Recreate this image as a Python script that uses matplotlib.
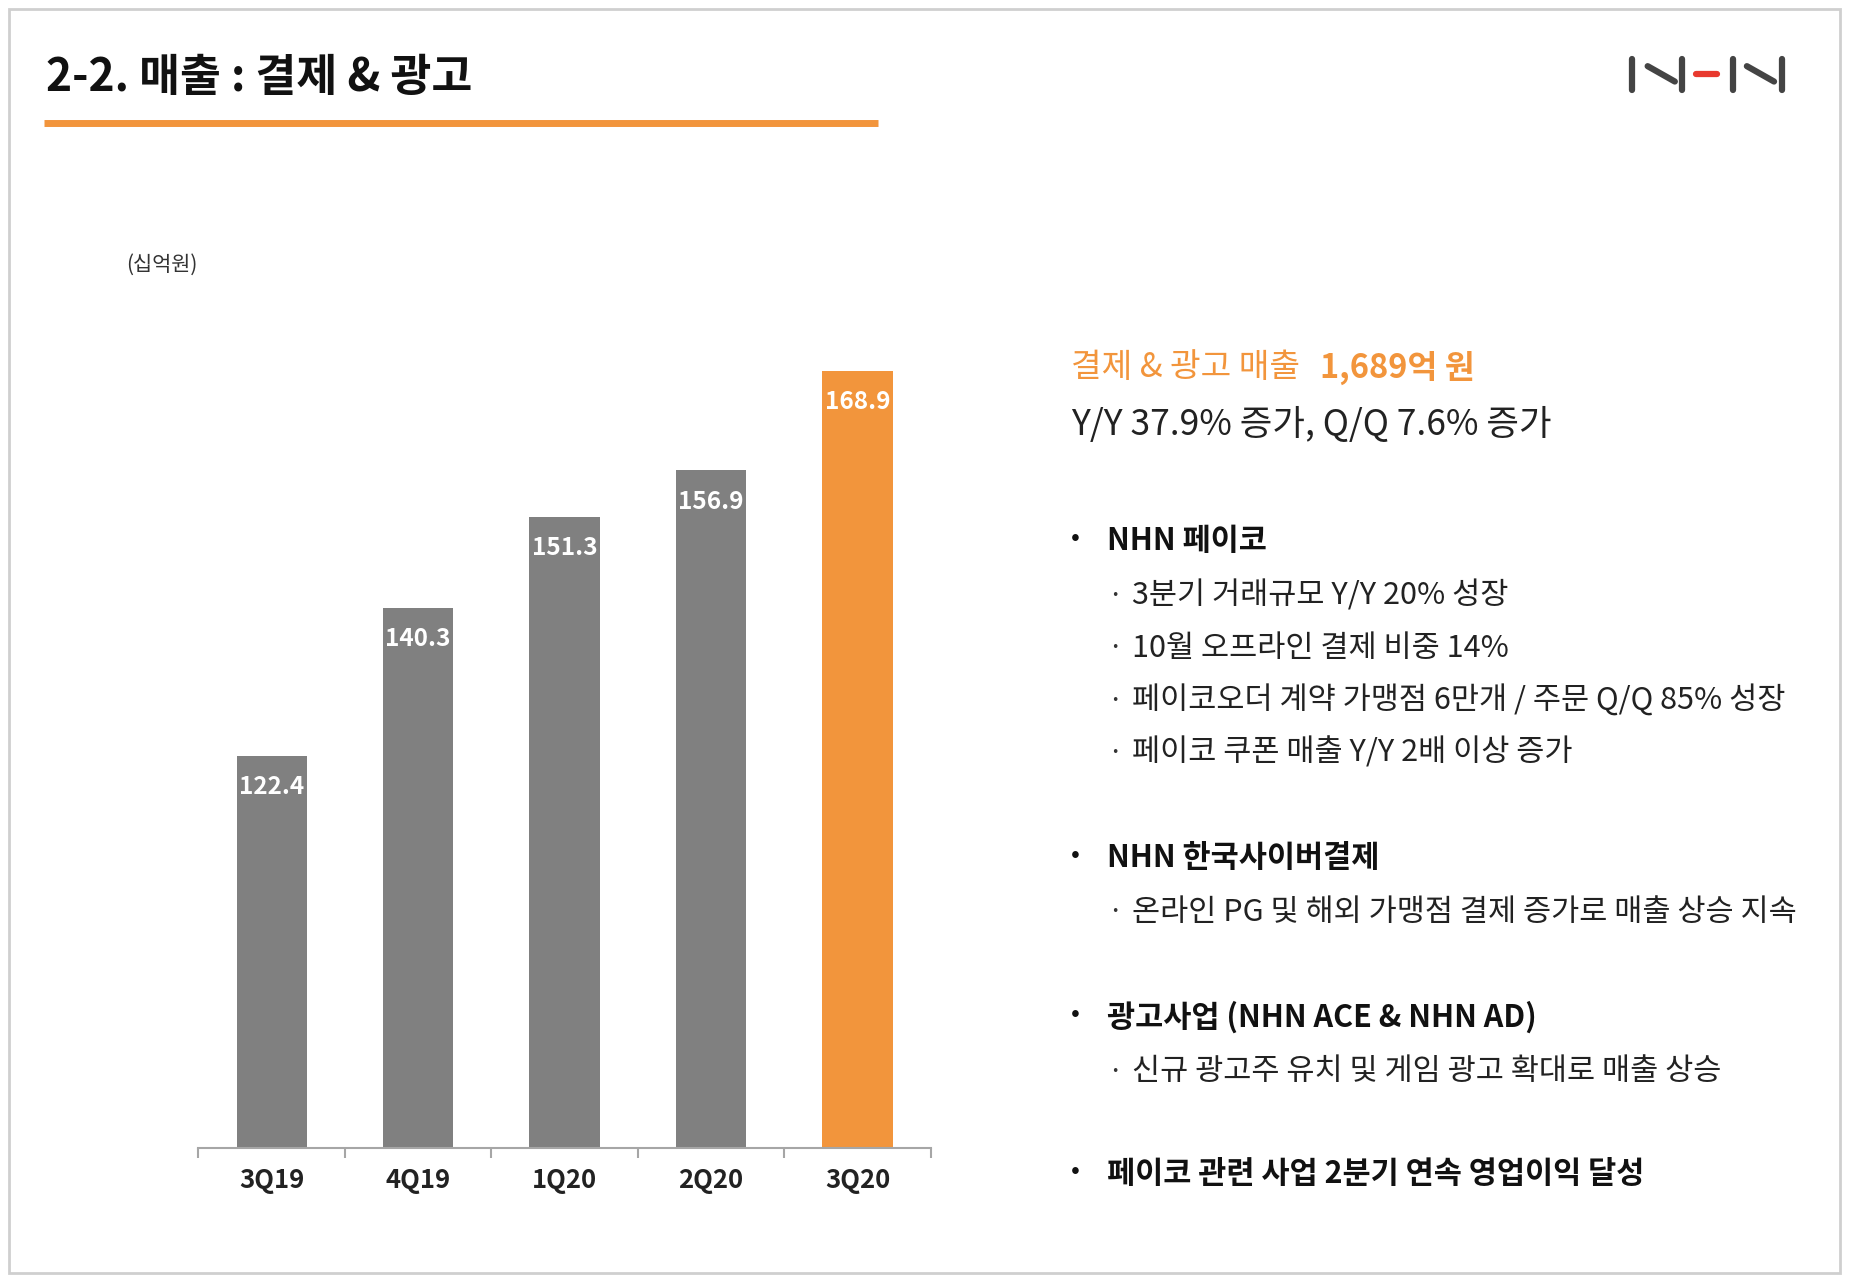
import matplotlib
matplotlib.use("Agg")
import matplotlib.pyplot as plt
from matplotlib.lines import Line2D
from matplotlib.patches import Rectangle

plt.rcParams['font.family'] = ['Noto Sans CJK KR', 'DejaVu Sans']

# data
quarters = ['3Q19', '4Q19', '1Q20', '2Q20', '3Q20']
revenue = [122.4, 140.3, 151.3, 156.9, 168.9]
bar_colors = ['#808080', '#808080', '#808080', '#808080', '#F2953C']

title = '2-2. 매출 : 결제 & 광고'
unit_label = '(십억원)'
headline_a = '결제 & 광고 매출'
headline_b = '1,689억 원'
subline = 'Y/Y 37.9% 증가, Q/Q 7.6% 증가'
bullets = [
    ('NHN 페이코', ['3분기 거래규모 Y/Y 20% 성장',
                  '10월 오프라인 결제 비중 14%',
                  '페이코오더 계약 가맹점 6만개 / 주문 Q/Q 85% 성장',
                  '페이코 쿠폰 매출 Y/Y 2배 이상 증가']),
    ('NHN 한국사이버결제', ['온라인 PG 및 해외 가맹점 결제 증가로 매출 상승 지속']),
    ('광고사업 (NHN ACE & NHN AD)', ['신규 광고주 유치 및 게임 광고 확대로 매출 상승']),
    ('페이코 관련 사업 2분기 연속 영업이익 달성', []),
]
bullet_y = [458, 726, 861, 994]

ORANGE = '#F2953C'
W, H = 1568.0, 1085.0  # layout frame


def fx(x):
    return x / W


def fy(y):
    return 1 - y / H


fig = plt.figure(figsize=(18.52, 12.82), dpi=100)
fig.patch.set_facecolor('white')

# slide frame
fig.add_artist(Rectangle((fx(8), fy(1077)), fx(1558) - fx(8), fy(8) - fy(1077),
                         transform=fig.transFigure, fill=False,
                         edgecolor='#cfcfcf', linewidth=2))

# title and underline
fig.text(fx(39), fy(66), title, fontsize=32, fontweight='bold',
         ha='left', va='center', color='#111111')
fig.add_artist(Line2D([fx(37), fx(743)], [fy(104), fy(104)],
                      transform=fig.transFigure, color=ORANGE, linewidth=5,
                      solid_capstyle='butt'))

# NHN logo
logo = [
    ([1382, 1382], [50, 76], '#444444'),
    ([1395, 1418], [56, 69], '#444444'),
    ([1424, 1424], [50, 76], '#444444'),
    ([1436, 1454], [63, 63], '#E8392E'),
    ([1467, 1467], [50, 76], '#444444'),
    ([1479, 1502], [56, 69], '#444444'),
    ([1509, 1509], [50, 76], '#444444'),
]
for xs, ys, c in logo:
    fig.add_artist(Line2D([fx(v) for v in xs], [fy(v) for v in ys],
                          transform=fig.transFigure, color=c, linewidth=4.5,
                          solid_capstyle='round'))

fig.text(fx(107), fy(224), unit_label, fontsize=15, ha='left', va='center',
         color='#333333')

# bar chart
ax_top, ax_bot = 250, 972
ax = fig.add_axes([fx(168), fy(ax_bot), fx(788) - fx(168), fy(ax_top) - fy(ax_bot)])
x = list(range(len(quarters)))
bars = ax.bar(x, revenue, width=0.48, color=bar_colors)
ymin = 75
ax.set_ylim(ymin, ymin + (ax_bot - ax_top) / 7.01)
ax.set_xlim(-0.5, len(quarters) - 0.5)
for b, v in zip(bars, revenue):
    ax.annotate(f'{v:.1f}', (b.get_x() + b.get_width() / 2, v),
                xytext=(0, -14), textcoords='offset points',
                ha='center', va='top', color='white', fontsize=17.5,
                fontweight='bold')

for s in ['left', 'right', 'top']:
    ax.spines[s].set_visible(False)
ax.spines['bottom'].set_color('#a6a6a6')
ax.spines['bottom'].set_linewidth(1.5)
ax.set_yticks([])
ax.set_xticks(x)
ax.set_xticklabels(quarters, fontsize=18.5, fontweight='bold', color='#222222')
ax.tick_params(axis='x', which='major', length=0, pad=13)
ax.set_xticks([i - 0.5 for i in range(len(quarters) + 1)], minor=True)
ax.tick_params(axis='x', which='minor', length=7, width=1.5, color='#a6a6a6',
               direction='out')

# right-side text
fig.text(fx(907), fy(311), headline_a, fontsize=24, color=ORANGE,
         fontweight='medium', ha='left', va='center')
fig.text(fx(1118), fy(311), headline_b, fontsize=23.5, color=ORANGE,
         fontweight='bold', ha='left', va='center')
fig.text(fx(907), fy(360), subline, fontsize=25.5, color='#222222',
         ha='left', va='center')

for (head, subs), by in zip(bullets, bullet_y):
    fig.text(fx(907), fy(by - 3), '•', fontsize=19, color='#111111',
             ha='left', va='center')
    fig.text(fx(937), fy(by), head, fontsize=22, fontweight='bold',
             color='#111111', ha='left', va='center')
    for k, line in enumerate(subs):
        sy = by + 46 + k * 44.5
        fig.text(fx(937), fy(sy), '·', fontsize=20, color='#333333',
                 ha='left', va='center')
        fig.text(fx(958), fy(sy), line, fontsize=22, color='#222222',
                 ha='left', va='center')

fig.savefig('out.png', dpi=100, facecolor='white')
